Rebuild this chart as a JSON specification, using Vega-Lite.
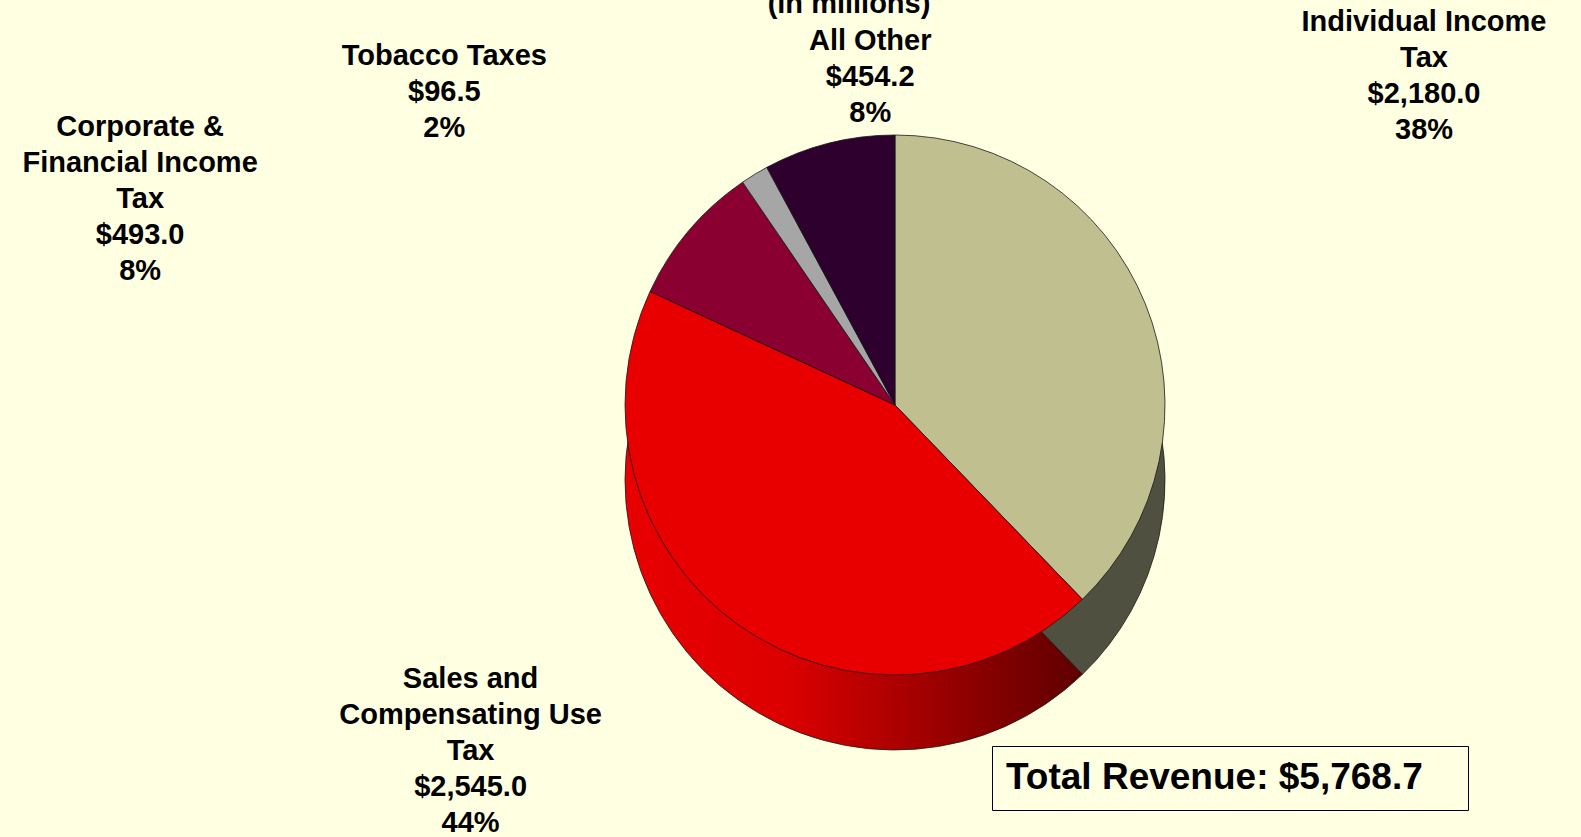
{
  "$schema": "https://vega.github.io/schema/vega-lite/v6.json",
  "autosize": "none",
  "width": 1146,
  "height": 810,
  "padding": {"left": 322, "top": 0, "right": 113, "bottom": 27},
  "background": "#FFFFE1",
  "config": {"view": {"stroke": null}, "font": "Liberation Sans"},
  "title": {"text": "(in millions)", "fontSize": 29, "fontWeight": "bold", "color": "black", "anchor": "middle", "dx": -46, "offset": 0, "baseline": "bottom", "dy": 48, "font": "Liberation Sans"},
  "data": {"values": [
    {"ord": 1, "name": "Individual Income Tax", "value": 2180.0, "label": "Individual Income\nTax\n$2,180.0\n38%"},
    {"ord": 2, "name": "Sales and Compensating Use Tax", "value": 2545.0, "label": "Sales and\nCompensating Use\nTax\n$2,545.0\n44%"},
    {"ord": 3, "name": "Corporate & Financial Income Tax", "value": 493.0, "label": "Corporate &\nFinancial Income\nTax\n$493.0\n8%"},
    {"ord": 4, "name": "Tobacco Taxes", "value": 96.5, "label": "Tobacco Taxes\n$96.5\n2%"},
    {"ord": 5, "name": "All Other", "value": 454.2, "label": "All Other\n$454.2\n8%"}
  ]},
  "encoding": {
    "theta": {"field": "value", "type": "quantitative", "stack": true},
    "order": {"field": "ord", "type": "quantitative"}
  },
  "layer": [
    {
      "mark": {"type": "arc", "outerRadius": 270, "yOffset": 75, "stroke": "#1a1a1a", "strokeWidth": 0.8},
      "encoding": {
        "fill": {
          "condition": {"test": "datum.ord === 2", "value": {"gradient": "linear", "x1": 0, "x2": 1, "y1": 0, "y2": 0, "stops": [{"offset": 0, "color": "#E80000"}, {"offset": 0.35, "color": "#DC0000"}, {"offset": 1, "color": "#5E0000"}]}},
          "value": "#505040"
        }
      }
    },
    {
      "mark": {"type": "arc", "outerRadius": 270, "stroke": "#1a1a1a", "strokeWidth": 0.8},
      "encoding": {
        "color": {
          "field": "name", "type": "nominal",
          "scale": {"domain": ["Individual Income Tax", "Sales and Compensating Use Tax", "Corporate & Financial Income Tax", "Tobacco Taxes", "All Other"], "range": ["#BFBF8F", "#E80000", "#8A0030", "#A6A6A6", "#2E002E"]},
          "legend": {"title": "Total Revenue: $5,768.7\u00a0\u00a0\u00a0\u200b", "values": [], "orient": "bottom-right", "offset": 0, "padding": 14, "strokeColor": "black", "titleFontSize": 37, "titleFontWeight": "bold", "titleColor": "black", "titleFont": "Liberation Sans", "titleLimit": 1000, "titlePadding": 0}
        }
      }
    },
    {
      "mark": {
        "type": "text", "radius": 330,
        "dx": {"expr": "datum.ord === 1 ? 223 : datum.ord === 2 ? -233 : datum.ord === 3 ? -503 : datum.ord === 4 ? -279 : 56"},
        "dy": {"expr": "datum.ord === 1 ? -259 : datum.ord === 2 ? 5 : datum.ord === 3 ? -65 : datum.ord === 4 ? -67 : -44"},
        "fontSize": 29, "fontWeight": "bold", "lineBreak": "\n", "lineHeight": 36, "align": "center", "baseline": "middle", "color": "black"
      },
      "encoding": {"text": {"field": "label", "type": "nominal"}}
    }
  ]
}
